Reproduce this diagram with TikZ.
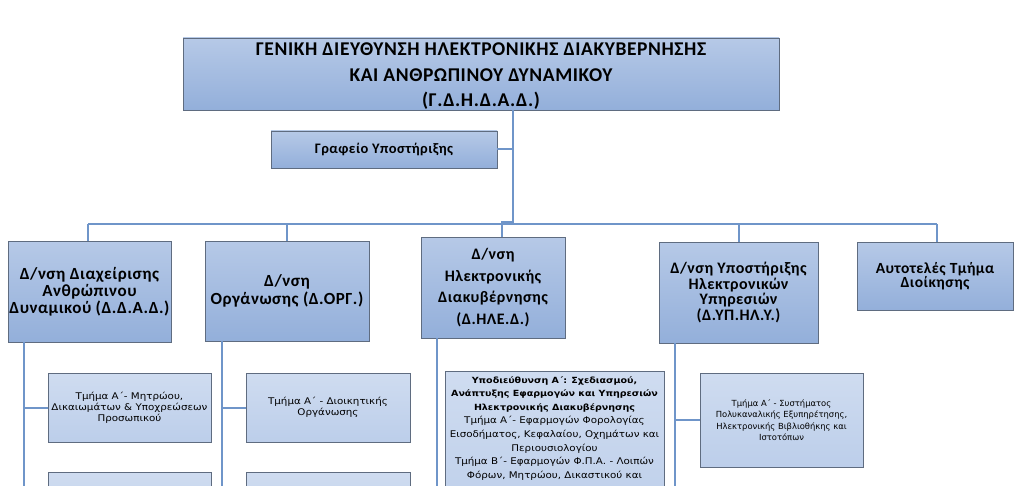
\documentclass[tikz,border=0pt]{standalone}
\usepackage{fontspec}
\setmainfont{Carlito}[BoldFont={Carlito Bold},LetterSpace=3]
\newfontfamily\subfont[FakeStretch=1.12]{DejaVu Sans}
\newfontfamily\subfontn{DejaVu Sans}
\usetikzlibrary{calc}
\definecolor{conn}{HTML}{6F95C9}
\definecolor{bord}{HTML}{5F6C80}
\definecolor{topc}{HTML}{B6C9E7}
\definecolor{botc}{HTML}{93AFDA}
\definecolor{subtop}{HTML}{CFDCF0}
\definecolor{subbot}{HTML}{BCCEEA}
\newcommand\hdline{\bfseries\fontsize{8.5}{13.6}\selectfont}
\begin{document}
\begin{tikzpicture}[x=1pt,y=-1pt,
  unitbox/.style={draw=bord,line width=0.9pt,top color=topc,bottom color=botc,
    inner sep=0pt,align=center,text=black},
  subbox/.style={draw=bord,line width=0.9pt,top color=subtop,bottom color=subbot,
    inner sep=0pt,align=center,text=black},
  link/.style={draw=conn,line width=2pt}]
\useasboundingbox (0,0) rectangle (1024,486);
\fill[white] (0,0) rectangle (1024,486);
\begin{scope}
\clip (0,0) rectangle (1024,486);
% junction coordinates
\coordinate (tj) at (513,224);
\coordinate (busL) at (88,224);
\coordinate (busR) at (937,224);
\coordinate (c1) at (24,500);
\coordinate (c2) at (222,500);
\coordinate (c3) at (437,500);
\coordinate (c4) at (675,500);
% nodes
\node[unitbox,minimum width=596pt,minimum height=72pt] (top) at (481,74) {};
\node[inner sep=0pt,align=center,font=\bfseries\fontsize{19.5}{25.5}\selectfont] (toptext)
  at ($(top.center)+(0,2.5)$)
  {ΓΕΝΙΚΗ ΔΙΕΥΘΥΝΣΗ ΗΛΕΚΤΡΟΝΙΚΗΣ ΔΙΑΚΥΒΕΡΝΗΣΗΣ\\ΚΑΙ ΑΝΘΡΩΠΙΝΟΥ ΔΥΝΑΜΙΚΟΥ\\(Γ.Δ.Η.Δ.Α.Δ.)};
\node[unitbox,minimum width=226pt,minimum height=37pt,
  font=\bfseries\fontsize{14.5}{15}\selectfont] (office) at (384,149.5) {Γραφείο Υποστήριξης};
\node[unitbox,minimum width=163pt,minimum height=101pt,
  font=\bfseries\fontsize{17}{17}\selectfont] (b1) at (89.5,291.5)
  {Δ/νση Διαχείρισης\\Ανθρώπινου\\Δυναμικού (Δ.Δ.Α.Δ.)};
\node[unitbox,minimum width=164pt,minimum height=100pt,
  font=\bfseries\fontsize{17}{18}\selectfont] (b2) at (287,291)
  {Δ/νση\\Οργάνωσης (Δ.ΟΡΓ.)};
\node[unitbox,minimum width=144pt,minimum height=101pt,
  font=\bfseries\fontsize{16}{21.5}\selectfont] (b3) at (493,287.5)
  {Δ/νση\\Ηλεκτρονικής\\Διακυβέρνησης\\(Δ.ΗΛΕ.Δ.)};
\node[unitbox,minimum width=159pt,minimum height=101pt,
  font=\bfseries\fontsize{16}{15.5}\selectfont] (b4) at (738.5,292.5)
  {Δ/νση Υποστήριξης\\Ηλεκτρονικών\\Υπηρεσιών\\(Δ.ΥΠ.ΗΛ.Υ.)};
\node[unitbox,minimum width=156pt,minimum height=68pt,
  font=\bfseries\fontsize{15.5}{14.5}\selectfont] (b5) at (935,276)
  {Αυτοτελές Τμήμα\\Διοίκησης};
\node[subbox,minimum width=163pt,minimum height=69pt,
  font=\subfont\fontsize{9.2}{11}\selectfont] (s1) at (129.5,407.5)
  {Τμήμα Α΄- Μητρώου,\\Δικαιωμάτων \& Υποχρεώσεων\\Προσωπικού};
\node[subbox,minimum width=164pt,minimum height=69pt,
  font=\subfont\fontsize{9.2}{11}\selectfont] (s2) at (328,407.5)
  {Τμήμα Α΄ -  Διοικητικής\\Οργάνωσης};
\node[subbox,minimum width=163pt,minimum height=69pt] (s1b) at (129.5,506.5) {};
\node[subbox,minimum width=164pt,minimum height=69pt] (s2b) at (328,506.5) {};
\node[subbox,minimum width=219pt,minimum height=160pt] (s3) at (554.5,451) {};
\node[anchor=north,inner sep=0pt,align=center,
  font=\subfont\fontsize{9.2}{13.6}\selectfont] (s3t) at ($(s3.north)+(0,5.5)$)
  {\hdline Υποδιεύθυνση  Α΄: Σχεδιασμού,\\\hdline Ανάπτυξης Εφαρμογών  και Υπηρεσιών\\\hdline Ηλεκτρονικής Διακυβέρνησης\\
   Τμήμα Α΄- Εφαρμογών Φορολογίας\\Εισοδήματος, Κεφαλαίου, Οχημάτων και\\Περιουσιολογίου\\
   Τμήμα Β΄- Εφαρμογών Φ.Π.Α. - Λοιπών\\Φόρων, Μητρώου, Δικαστικού και};
\node[subbox,minimum width=163pt,minimum height=94pt,
  font=\subfontn\fontsize{8.4}{11.5}\selectfont] (s4) at (781.5,420)
  {Τμήμα Α΄ - Συστήματος\\Πολυκαναλικής Εξυπηρέτησης,\\Ηλεκτρονικής Βιβλιοθήκης και\\Ιστοτόπων};
% connectors
\draw[link] (top.south -| tj) -- (tj);
\draw[link] (office.east) -- (office.east -| tj);
\draw[link] (busL) -- (busR);
\draw[link] (b1.north -| busL) -- (busL);
\draw[link] (b2.north) -- (b2.north |- busL);
\draw[link] ($(b3.north)+(9,0)$) |- ($(tj)+(0,-2)$);
\draw[link] (b4.north) -- (b4.north |- busL);
\draw[link] (b5.north -| busR) -- (busR);
\draw[link] (b1.south -| c1) -- (c1);
\draw[link] (b2.south -| c2) -- (c2);
\draw[link] (b3.south -| c3) -- (c3);
\draw[link] (b4.south -| c4) -- (c4);
\draw[link] (c1 |- s1.west) -- (s1.west);
\draw[link] (c2 |- s2.west) -- (s2.west);
\draw[link] (c4 |- s4.west) -- (s4.west);
\end{scope}
\end{tikzpicture}
\end{document}
